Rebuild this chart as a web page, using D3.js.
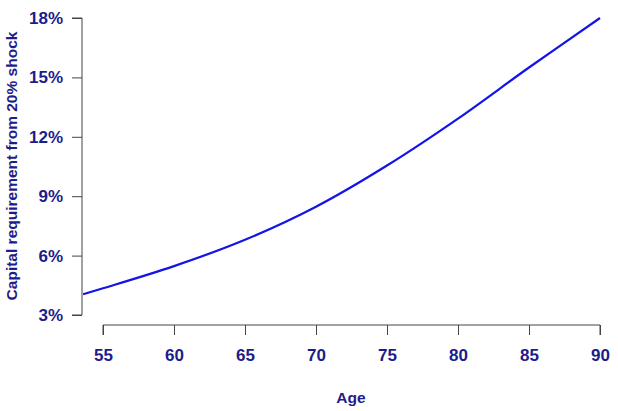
<!DOCTYPE html>
<html>
<head>
<meta charset="utf-8">
<script src="https://cdn.jsdelivr.net/npm/d3@7"></script>
<style>
  body { margin: 0; background: #fff; }
  text { font-family: "Liberation Sans", Arial, sans-serif; font-weight: bold; fill: #1c1c8a; }
</style>
</head>
<body>
<svg id="chart" width="618" height="411"></svg>
<script>
const ages = [53.6, 55, 60, 65, 70, 75, 80, 85, 90];
const capital = [4.05, 4.35, 5.47, 6.8, 8.47, 10.55, 12.92, 15.5, 18.0];
const xTicks = [55, 60, 65, 70, 75, 80, 85, 90];
const yTicks = [3, 6, 9, 12, 15, 18];

const svg = d3.select('#chart');
const x = d3.scaleLinear().domain([55, 90]).range([103, 600]);
const y = d3.scaleLinear().domain([3, 18]).range([315, 18]);

const axisColor = '#444';
const font = '"Liberation Sans", Arial, sans-serif';

// y axis
const yAxis = svg.append('g').attr('transform', 'translate(82,0)')
  .call(d3.axisLeft(y).tickValues(yTicks).tickSize(10).tickPadding(9).tickFormat(d => d + '%'));
yAxis.select('.domain').attr('stroke', axisColor).attr('d', `M-10,${y(3)}H0V${y(18)}H-10`);
yAxis.selectAll('.tick line').attr('stroke', axisColor);
yAxis.selectAll('.tick text').attr('font-size', 17).attr('fill', '#1c1c8a')
  .attr('font-family', font).attr('font-weight', 'bold');

// x axis
const xAxis = svg.append('g').attr('transform', 'translate(0,325)')
  .call(d3.axisBottom(x).tickValues(xTicks).tickSize(10).tickPadding(14));
xAxis.select('.domain').attr('stroke', axisColor).attr('d', `M${x(55)},10V0H${x(90)}V10`);
xAxis.selectAll('.tick line').attr('stroke', axisColor);
xAxis.selectAll('.tick text').attr('font-size', 17).attr('fill', '#1c1c8a')
  .attr('font-family', font).attr('font-weight', 'bold');

// line
const line = d3.line().x((d, i) => x(ages[i])).y(d => y(d)).curve(d3.curveCatmullRom.alpha(0.5));
svg.append('path').datum(capital).attr('d', line)
  .attr('fill', 'none').attr('stroke', '#1414e6').attr('stroke-width', 2.2);

// titles
svg.append('text').text('Age').attr('x', 351).attr('y', 403)
  .attr('text-anchor', 'middle').attr('font-size', 15.5);
svg.append('text').text('Capital requirement from 20% shock')
  .attr('transform', 'translate(17,166) rotate(-90)')
  .attr('text-anchor', 'middle').attr('font-size', 15.5);
</script>
</body>
</html>
